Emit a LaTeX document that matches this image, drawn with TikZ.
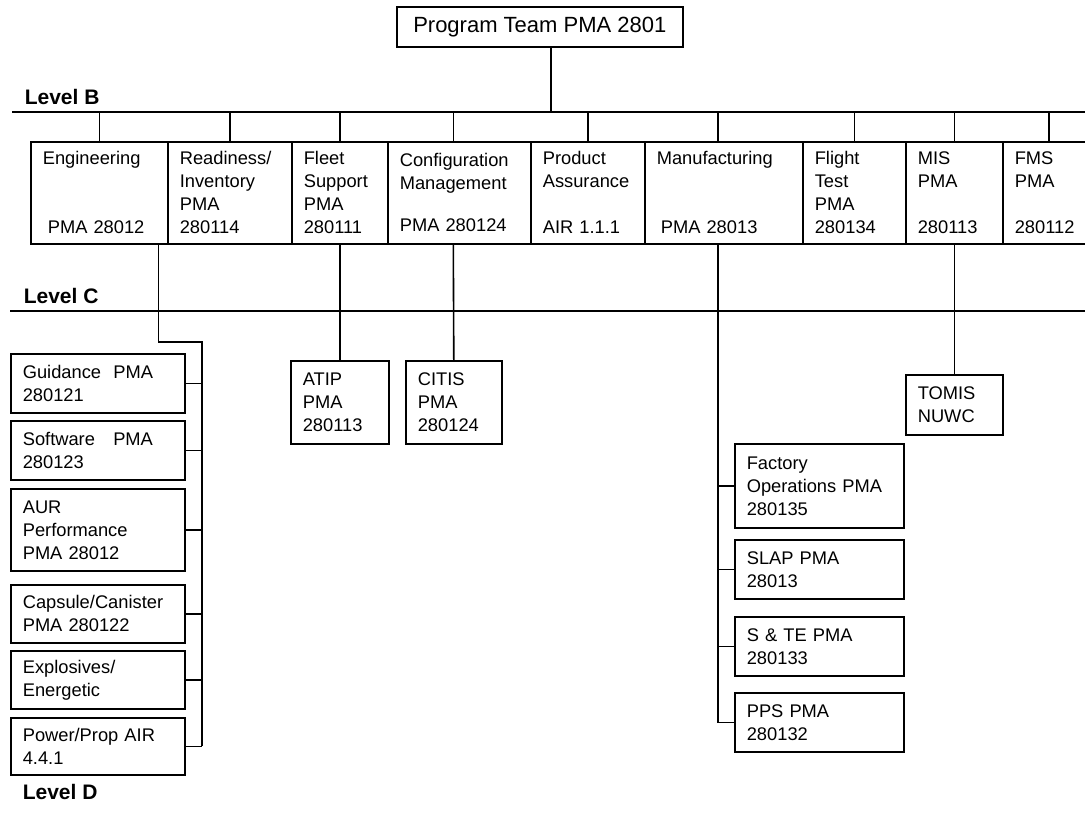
\documentclass[tikz,border=0pt]{standalone}
\usepackage{fontspec}
\setmainfont{Liberation Sans}
\tikzstyle{orgbox}=[draw, rectangle, anchor=north west, align=left, inner xsep=12pt, inner ysep=0pt, font=\fontsize{18.3}{23}\selectfont]
\tikzstyle{levelname}=[anchor=base west, inner sep=0pt, font=\fontsize{21}{25}\selectfont\bfseries]
\tikzset{wh/.style 2 args={minimum width=#1pt, minimum height=#2pt, text width=#1pt-24pt}}
\newcommand{\orgbox}{\node[orgbox]}

\begin{document}
\begin{tikzpicture}[x=1pt, y=-1pt, line width=1.6pt]
\useasboundingbox (0,0) rectangle (1085,812);
%level lines
\coordinate (busBl) at (12,112);
\coordinate (busBr) at (1085,112);
\coordinate (busCl) at (10,311);
\coordinate (busCr) at (1085,311);
\draw (busBl) -- (busBr) (busCl) -- (busCr);
\node[levelname] (lvlB) at (24,104) {Level B};
\node[levelname] (lvlC) at (23,303) {Level C};
\node[levelname] (lvlD) at (22,799) {Level D};

\orgbox (team) at (396,6) [minimum width=286pt, minimum height=40pt, inner xsep=0pt, font=\fontsize{22}{26}\selectfont] {Program Team PMA 2801};
\draw ([xshift=11pt]team.south) -- ([xshift=11pt]team.south |- busBl);

%Level B
\orgbox (eng) at (30,141) [wh={137}{102}] {Engineering\\[46pt]\hspace*{5pt}PMA 28012};
\orgbox (ready) at (167,141) [wh={124}{102}] {Readiness/\\Inventory\\PMA\\280114};
\orgbox (fleet) at (291,141) [wh={96}{102}] {Fleet\\Support\\PMA\\280111};
\orgbox (config) at (387,141) [wh={143}{102}] {Configuration\\Management\\[19pt]PMA 280124};
\orgbox (prod) at (530,141) [wh={114}{102}] {Product\\Assurance\\[23pt]AIR 1.1.1};
\orgbox (mfg) at (644,141) [wh={158}{102}] {Manufacturing\\[46pt]\hspace*{4pt}PMA 28013};
\orgbox (flight) at (802,141) [wh={103}{102}] {Flight\\Test\\PMA\\280134};
\orgbox (mis) at (905,141) [wh={97}{102}] {MIS\\PMA\\[23pt]280113};
\orgbox (fms) at (1002,141) [wh={92}{102}] {FMS\\PMA\\[23pt]280112};
\foreach \b in {eng,ready,fleet,prod,flight,mis,fms}{\draw (\b.north) -- (\b.north |- busBl);}
\draw ([xshift=-6pt]config.north) -- ([xshift=-6pt]config.north |- busBl);
\draw ([xshift=-6pt]mfg.north) -- ([xshift=-6pt]mfg.north |- busBl);

%Level C
\orgbox (atip) at (290,360) [wh={98}{83}] {ATIP\\PMA\\280113};
\orgbox (citis) at (405,360) [wh={96}{83}] {CITIS\\PMA\\280124};
\orgbox (tomis) at (905,374) [wh={97}{60}] {TOMIS\\NUWC};
\draw (fleet.south) -- (atip.north);
\draw ([xshift=-6pt]config.south) -- (citis.north);
\draw (mis.south) -- (tomis.north);

%Level D under engineering
\orgbox (guid) at (10,353) [wh={174}{59}] {Guidance~~PMA\\280121};
\orgbox (soft) at (10,420) [wh={174}{59}] {Software~~~PMA\\280123};
\orgbox (aur) at (10,488) [wh={174}{82}] {AUR\\Performance\\PMA 28012};
\orgbox (caps) at (10,584) [wh={174}{58}] {Capsule/Canister\\PMA 280122};
\orgbox (expl) at (10,650) [wh={174}{58}] {Explosives/\\Energetic};
\orgbox (pow) at (10,717) [wh={174}{57}] {Power/Prop AIR\\4.4.1};
\coordinate (engD) at (202,342);
\draw ([xshift=-10pt]eng.south east) |- (engD) -- (engD |- pow.east);
\foreach \b in {guid,soft,aur,caps,expl,pow}{\draw (\b.east) -- (\b.east -| engD);}

%under manufacturing
\orgbox (fact) at (734,443) [wh={169}{84}] {Factory\\Operations PMA\\280135};
\orgbox (slap) at (734,539) [wh={169}{59}] {SLAP PMA\\28013};
\orgbox (ste) at (734,616) [wh={169}{59}] {S \& TE PMA\\280133};
\orgbox (pps) at (734,692) [wh={169}{59}] {PPS PMA\\280132};
\coordinate (mfgD) at ([xshift=-6pt]mfg.south);
\draw (mfgD) -- (mfgD |- pps.west) -- (pps.west);
\foreach \b in {fact,slap,ste}{\draw (\b.west) -- (\b.west -| mfgD);}
\end{tikzpicture}
\end{document}
